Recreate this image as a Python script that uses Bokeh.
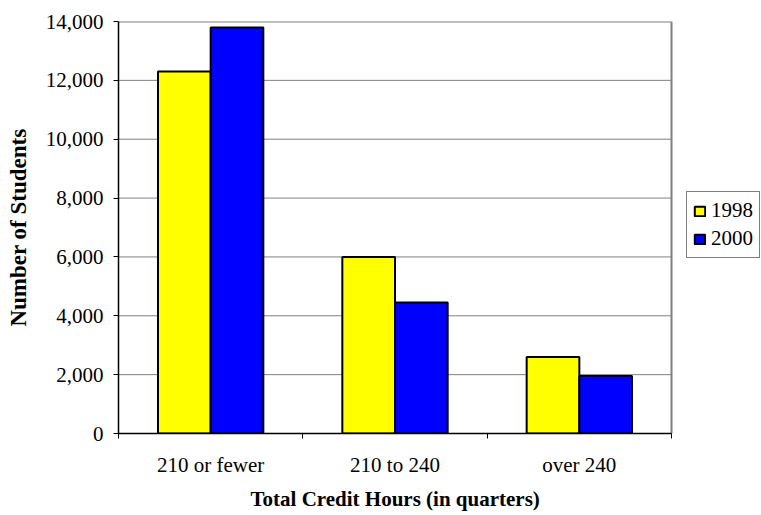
from bokeh.plotting import figure
from bokeh.models import (FixedTicker, NumeralTickFormatter, Range1d, Legend,
                          LegendItem, ColumnDataSource, Title)
from bokeh.embed import file_html
from bokeh.resources import INLINE

# Students by total credit hours, two survey years
categories = ["210 or fewer", "210 to 240", "over 240"]
years = ["1998", "2000"]
students_1998 = [12300, 6000, 2600]
students_2000 = [13800, 4450, 1950]
year_colors = ["#FFFF00", "#0000FF"]
y_ticks = [0, 2000, 4000, 6000, 8000, 10000, 12000, 14000]

FONT = "Liberation Serif"
W, H = 761, 515
LEFT, PLOT_RIGHT = 118, 671          # pixel extent of the bar area
n = len(categories)
bar_w = 1 / 3.5  # two bars per group, gap of 1.5 bar widths

# The frame runs to the right edge so the legend can sit beside the bar area.
x_end = n * (W - LEFT) / (PLOT_RIGHT - LEFT)

p = figure(width=W, height=H, output_backend="svg", toolbar_location=None,
           x_range=Range1d(0, x_end), y_range=Range1d(0, y_ticks[-1]),
           min_border_left=LEFT, min_border_right=0,
           min_border_top=21, min_border_bottom=82)
p.background_fill_color = "white"
p.border_fill_color = "white"
p.outline_line_color = None
p.xgrid.grid_line_color = None
p.ygrid.grid_line_color = None

# gridlines and plot-area border, limited to the bar area
p.segment(x0=0, x1=n, y0=y_ticks[:-1], y1=y_ticks[:-1],
          line_color="#808080", line_width=1)
p.segment(x0=[0, n], x1=[n, n], y0=[y_ticks[-1], 0], y1=[y_ticks[-1], y_ticks[-1]],
          line_color="#808080", line_width=2)

centers = [i + 0.5 for i in range(n)]
renderers = []
for k, (vals, color) in enumerate(zip([students_1998, students_2000], year_colors)):
    offset = (k - 0.5) * bar_w
    src = ColumnDataSource(dict(x=[c + offset for c in centers], top=vals))
    r = p.vbar(x="x", top="top", width=bar_w, bottom=0, source=src,
               fill_color=color, line_color="black", line_width=2)
    renderers.append(r)

# y axis
p.yaxis.ticker = FixedTicker(ticks=y_ticks)
p.yaxis.formatter = NumeralTickFormatter(format="0,0")
p.yaxis.axis_label = "Number of Students"
p.yaxis.major_tick_out = 5
p.yaxis.major_tick_in = 0
p.yaxis.minor_tick_out = 0
p.yaxis.minor_tick_in = 0
p.yaxis.major_label_standoff = 10
p.yaxis.axis_label_standoff = 12

# x axis: labels at category centers, tick marks at category boundaries
p.xaxis.bounds = (0, n)
p.xaxis.ticker = FixedTicker(ticks=centers, minor_ticks=list(range(n + 1)))
p.xaxis.major_label_overrides = {c: name for c, name in zip(centers, categories)}
p.xaxis.major_tick_out = 0
p.xaxis.major_tick_in = 0
p.xaxis.minor_tick_out = 5
p.xaxis.minor_tick_in = 0
p.xaxis.minor_tick_line_color = "black"
p.xaxis.major_label_standoff = 14

for ax in (p.xaxis, p.yaxis):
    ax.axis_line_color = "black"
    ax.axis_line_width = 1.5
    ax.major_tick_line_color = "black"
    ax.major_label_text_font = FONT
    ax.major_label_text_font_size = "21px"
    ax.major_label_text_color = "black"
    ax.axis_label_text_font = FONT
    ax.axis_label_text_font_style = "bold"
    ax.axis_label_text_color = "black"
p.yaxis.axis_label_text_font_size = "23px"

# x-axis title, centred under the bar area rather than the whole frame
x_title = Title(text="Total Credit Hours (in quarters)", align="left",
                offset=132, standoff=10, text_font=FONT,
                text_font_size="21px", text_font_style="bold", text_color="black")
p.add_layout(x_title, "below")

legend = Legend(
    items=[LegendItem(label=y, renderers=[r]) for y, r in zip(years, renderers)],
    location=(686 - LEFT, 175),
    border_line_color="black", border_line_width=1,
    background_fill_color="white", background_fill_alpha=1,
    padding=6, spacing=3, margin=0,
    glyph_width=13, glyph_height=12, label_standoff=5,
    label_text_font=FONT, label_text_font_size="21px", label_text_color="black",
)
p.add_layout(legend, "center")

open("out.html", "w").write(file_html(p, INLINE))
